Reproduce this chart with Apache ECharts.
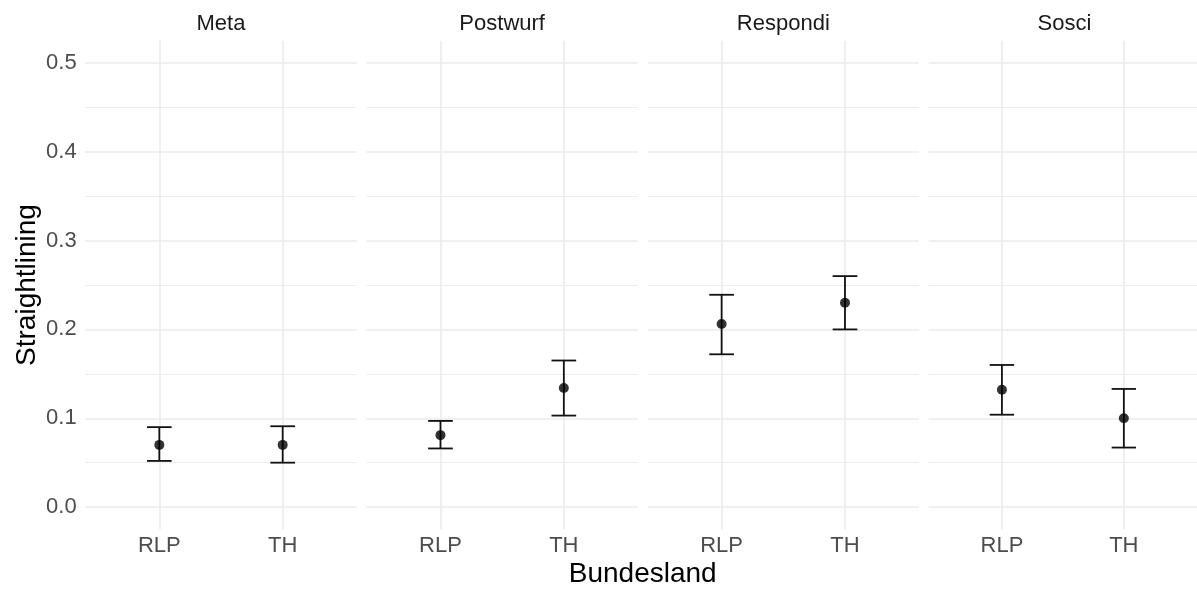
<!DOCTYPE html>
<html>
<head>
<meta charset="utf-8">
<script src="https://cdn.jsdelivr.net/npm/echarts@6/dist/echarts.min.js"></script>
<style>
  html, body { margin: 0; padding: 0; background: #fff; }
  #chart { width: 1197px; height: 591px; }
</style>
</head>
<body>
<div id="chart"></div>
<script>
// facet panels and x categories
const panels = ['Meta', 'Postwurf', 'Respondi', 'Sosci'];
const regions = ['RLP', 'TH'];

// straightlining share per panel: [RLP, TH]
const meanValues = [[0.070, 0.070], [0.081, 0.134], [0.206, 0.230], [0.132, 0.100]];
const lowerValues = [[0.052, 0.050], [0.066, 0.103], [0.172, 0.200], [0.104, 0.067]];
const upperValues = [[0.090, 0.091], [0.097, 0.165], [0.239, 0.260], [0.160, 0.133]];

// y axis ticks
const yTicks = [0, 0.1, 0.2, 0.3, 0.4, 0.5];
const yMinorTicks = [0.05, 0.15, 0.25, 0.35, 0.45];

const font = '"Liberation Sans", Arial, Helvetica, sans-serif';
const gridColor = '#ebebeb';
const panelLeft = 85.3, panelStep = 281.15, panelWidth = 271.4;
const panelTop = 40.7, panelHeight = 488.6;
const xPos = regions.map((r, i) => i + 1);
const capHalf = 0.1;

function renderErrorBar(params, api) {
  const x = api.value(0);
  const lo = api.value(1);
  const hi = api.value(2);
  const pLo = api.coord([x, lo]);
  const pHi = api.coord([x, hi]);
  const loL = api.coord([x - capHalf, lo]);
  const loR = api.coord([x + capHalf, lo]);
  const hiL = api.coord([x - capHalf, hi]);
  const hiR = api.coord([x + capHalf, hi]);
  const style = { stroke: '#111', lineWidth: 1.8 };
  return {
    type: 'group',
    children: [
      { type: 'line', shape: { x1: pLo[0], y1: pLo[1], x2: pHi[0], y2: pHi[1] }, style: style },
      { type: 'line', shape: { x1: loL[0], y1: loL[1], x2: loR[0], y2: loR[1] }, style: style },
      { type: 'line', shape: { x1: hiL[0], y1: hiL[1], x2: hiR[0], y2: hiR[1] }, style: style }
    ]
  };
}

const grids = [], xAxes = [], yAxes = [], series = [], titles = [];

panels.forEach((name, i) => {
  const left = panelLeft + i * panelStep;
  grids.push({ left: left, top: panelTop, width: panelWidth, height: panelHeight });

  titles.push({
    text: name,
    left: left + panelWidth / 2,
    top: 13,
    textAlign: 'center',
    padding: 0,
    textStyle: { fontFamily: font, fontSize: 22, fontWeight: 'normal', color: '#1a1a1a', lineHeight: 22 }
  });

  xAxes.push({
    gridIndex: i,
    type: 'value',
    min: 0.4,
    max: 2.6,
    axisLine: { show: false },
    axisTick: { show: false, customValues: xPos },
    axisLabel: {
      customValues: xPos,
      formatter: v => regions[Math.round(v) - 1],
      fontFamily: font, fontSize: 22, color: '#4d4d4d', margin: 6, lineHeight: 22
    },
    splitLine: { show: true, lineStyle: { color: gridColor, width: 1.6 } }
  });

  // major y grid + labels
  yAxes.push({
    gridIndex: i,
    type: 'value',
    position: 'left',
    min: -0.025,
    max: 0.525,
    name: i === 0 ? 'Straightlining' : '',
    nameLocation: 'middle',
    nameGap: 44,
    nameTextStyle: { fontFamily: font, fontSize: 28, color: '#000' },
    axisLine: { show: false },
    axisTick: { show: false, customValues: yTicks },
    axisLabel: {
      show: i === 0,
      customValues: yTicks,
      formatter: v => v.toFixed(1),
      fontFamily: font, fontSize: 22, color: '#4d4d4d', margin: 8.6
    },
    splitLine: { show: true, lineStyle: { color: gridColor, width: 1.6 } }
  });

  // minor y grid
  yAxes.push({
    gridIndex: i,
    type: 'value',
    position: 'left',
    min: -0.025,
    max: 0.525,
    axisLine: { show: false },
    axisTick: { show: false, customValues: yMinorTicks },
    axisLabel: { show: false, customValues: yMinorTicks },
    splitLine: { show: true, lineStyle: { color: gridColor, width: 0.9 } }
  });

  series.push({
    type: 'custom',
    xAxisIndex: i,
    yAxisIndex: 2 * i,
    renderItem: renderErrorBar,
    encode: { x: 0, y: [1, 2] },
    data: xPos.map((x, j) => [x, lowerValues[i][j], upperValues[i][j]]),
    z: 2,
    silent: true
  });

  series.push({
    type: 'scatter',
    xAxisIndex: i,
    yAxisIndex: 2 * i,
    data: xPos.map((x, j) => [x, meanValues[i][j]]),
    symbol: 'circle',
    symbolSize: 10,
    itemStyle: { color: '#000' },
    z: 3,
    silent: true
  });
});

titles.push({
  text: 'Bundesland',
  left: panelLeft + (3 * panelStep + panelWidth) / 2,
  top: 560.3,
  textAlign: 'center',
  padding: 0,
  textStyle: { fontFamily: font, fontSize: 28, fontWeight: 'normal', color: '#000', lineHeight: 28 }
});

const chart = echarts.init(document.getElementById('chart'), null, { renderer: 'canvas' });
chart.setOption({
  animation: false,
  backgroundColor: '#fff',
  title: titles,
  grid: grids,
  xAxis: xAxes,
  yAxis: yAxes,
  series: series
});
</script>
</body>
</html>
